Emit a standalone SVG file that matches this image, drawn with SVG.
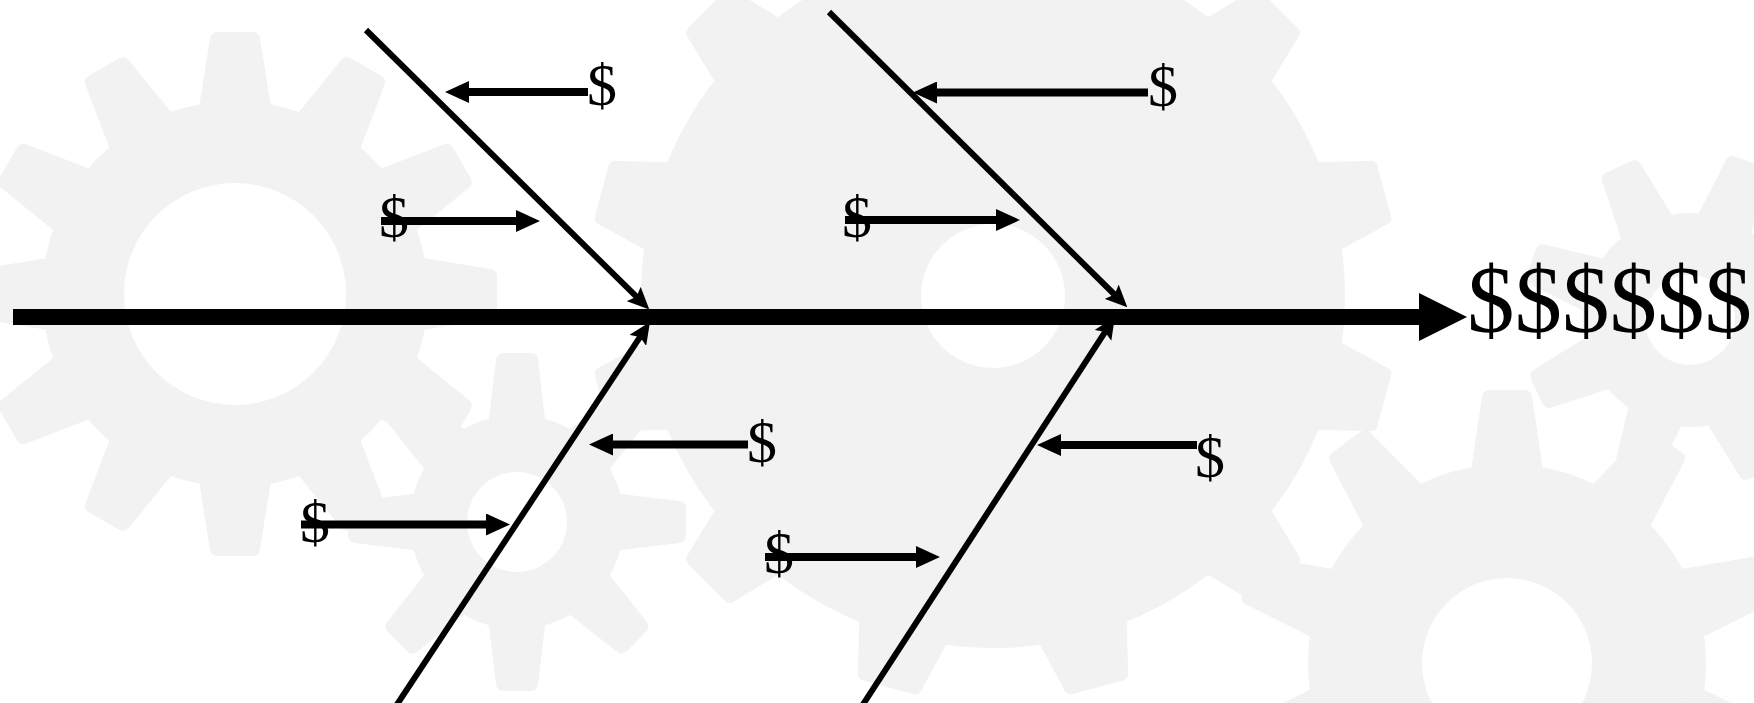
<svg xmlns="http://www.w3.org/2000/svg" xmlns:xlink="http://www.w3.org/1999/xlink" width="1754" height="703" viewBox="0 0 1754 703">
  <style>
    .gear { fill: #f2f2f2; stroke: #f2f2f2; stroke-width: 14; stroke-linejoin: round; }
    .hole { fill: #ffffff; }
    .spine { stroke: #000; stroke-width: 16; fill: none; }
    .bone { stroke: #000; stroke-width: 6; fill: none; marker-end: url(#boneHead); }
    .cause { stroke: #000; stroke-width: 8; fill: none; marker-end: url(#causeHead); }
    .lbl { font-family: "Liberation Serif", "Times New Roman", serif; font-size: 60px; fill: #000; }
    .result { font-family: "Liberation Serif", "Times New Roman", serif; font-size: 95px; fill: #000; }
  </style>
  <defs>
    <marker id="spineHead" markerUnits="userSpaceOnUse" viewBox="0 0 48 48" refX="8" refY="24" markerWidth="48" markerHeight="48" orient="auto">
      <path d="M0,0 L48,24 L0,48 z" fill="#000"/>
    </marker>
    <marker id="boneHead" markerUnits="userSpaceOnUse" viewBox="0 0 22 20" refX="11" refY="10" markerWidth="22" markerHeight="20" orient="auto">
      <path d="M0,0 L22,10 L0,20 L4,10 z" fill="#000"/>
    </marker>
    <marker id="causeHead" markerUnits="userSpaceOnUse" viewBox="0 0 24 22" refX="12" refY="11" markerWidth="24" markerHeight="22" orient="auto">
      <path d="M0,0 L24,11 L0,22 z" fill="#000"/>
    </marker>
    <polygon id="toothA" points="-30,-180 -18,-255 18,-255 30,-180"/>
    <polygon id="toothB" points="-40,-340 -26,-398 26,-398 40,-340"/>
    <polygon id="toothC" points="-30,-185 -18,-266 18,-266 30,-185"/>
    <polygon id="toothS" points="-22,-95 -14,-162 14,-162 22,-95"/>
  </defs>

  <rect width="1754" height="703" fill="#ffffff"/>

  <!-- background gears -->
  <g id="gears">
    <g id="gear-left" class="gear" transform="translate(235,294)">
      <circle r="186"/>
      <use href="#toothA"/><use href="#toothA" transform="rotate(30)"/><use href="#toothA" transform="rotate(60)"/>
      <use href="#toothA" transform="rotate(90)"/><use href="#toothA" transform="rotate(120)"/><use href="#toothA" transform="rotate(150)"/>
      <use href="#toothA" transform="rotate(180)"/><use href="#toothA" transform="rotate(210)"/><use href="#toothA" transform="rotate(240)"/>
      <use href="#toothA" transform="rotate(270)"/><use href="#toothA" transform="rotate(300)"/><use href="#toothA" transform="rotate(330)"/>
    </g>
    <g id="gear-small-left" class="gear" transform="translate(517,522)">
      <circle r="100"/>
      <use href="#toothS"/><use href="#toothS" transform="rotate(45)"/><use href="#toothS" transform="rotate(90)"/>
      <use href="#toothS" transform="rotate(135)"/><use href="#toothS" transform="rotate(180)"/><use href="#toothS" transform="rotate(225)"/>
      <use href="#toothS" transform="rotate(270)"/><use href="#toothS" transform="rotate(315)"/>
    </g>
    <g id="gear-middle" class="gear" transform="translate(993,296)">
      <circle r="345"/>
      <use href="#toothB" transform="rotate(15)"/><use href="#toothB" transform="rotate(45)"/><use href="#toothB" transform="rotate(75)"/>
      <use href="#toothB" transform="rotate(105)"/><use href="#toothB" transform="rotate(135)"/><use href="#toothB" transform="rotate(165)"/>
      <use href="#toothB" transform="rotate(195)"/><use href="#toothB" transform="rotate(225)"/><use href="#toothB" transform="rotate(255)"/>
      <use href="#toothB" transform="rotate(285)"/><use href="#toothB" transform="rotate(315)"/><use href="#toothB" transform="rotate(345)"/>
    </g>
    <g id="gear-small-right" class="gear" transform="translate(1690,320)">
      <circle r="100"/>
      <use href="#toothS" transform="rotate(20)"/><use href="#toothS" transform="rotate(65)"/><use href="#toothS" transform="rotate(110)"/>
      <use href="#toothS" transform="rotate(155)"/><use href="#toothS" transform="rotate(200)"/><use href="#toothS" transform="rotate(245)"/>
      <use href="#toothS" transform="rotate(290)"/><use href="#toothS" transform="rotate(335)"/>
    </g>
    <g id="gear-bottom-right" class="gear" transform="translate(1507,663)">
      <circle r="192"/>
      <use href="#toothC"/><use href="#toothC" transform="rotate(36)"/><use href="#toothC" transform="rotate(72)"/>
      <use href="#toothC" transform="rotate(108)"/><use href="#toothC" transform="rotate(144)"/><use href="#toothC" transform="rotate(216)"/>
      <use href="#toothC" transform="rotate(252)"/><use href="#toothC" transform="rotate(288)"/><use href="#toothC" transform="rotate(324)"/>
    </g>
    <circle class="hole" cx="235" cy="294" r="111"/>
    <circle class="hole" cx="517" cy="522" r="50"/>
    <circle class="hole" cx="993" cy="296" r="72"/>
    <circle class="hole" cx="1690" cy="320" r="45"/>
    <circle class="hole" cx="1507" cy="663" r="85"/>
  </g>

  <!-- spine and bones -->
  <g id="connectors">
    <line class="spine" x1="13" y1="317" x2="1427" y2="317" marker-end="url(#spineHead)"/>
    <line class="bone" x1="366" y1="30" x2="641.5" y2="301.7"/>
    <line class="bone" x1="396" y1="706" x2="643.9" y2="331.2"/>
    <line class="bone" x1="829" y1="12" x2="1119.5" y2="299.5"/>
    <line class="bone" x1="862" y1="706" x2="1108.9" y2="326.2"/>

    <line class="cause" x1="588" y1="92" x2="457" y2="92"/>
    <line class="cause" x1="381" y1="221" x2="528" y2="221"/>
    <line class="cause" x1="301" y1="524.5" x2="498" y2="524.5"/>
    <line class="cause" x1="748" y1="444.5" x2="601" y2="444.5"/>
    <line class="cause" x1="1148" y1="92.5" x2="925" y2="92.5"/>
    <line class="cause" x1="845" y1="220" x2="1008" y2="220"/>
    <line class="cause" x1="1197" y1="445" x2="1049" y2="445"/>
    <line class="cause" x1="765" y1="557" x2="928" y2="557"/>
  </g>

  <!-- labels -->
  <g id="label-ul-1"><text class="lbl" x="587" y="105">$</text></g>
  <g id="label-ul-2"><text class="lbl" x="379" y="237">$</text></g>
  <g id="label-ll-1"><text class="lbl" x="747" y="462">$</text></g>
  <g id="label-ll-2"><text class="lbl" x="300" y="542">$</text></g>
  <g id="label-ur-1"><text class="lbl" x="1148" y="106">$</text></g>
  <g id="label-ur-2"><text class="lbl" x="842" y="237">$</text></g>
  <g id="label-lr-1"><text class="lbl" x="1195" y="477">$</text></g>
  <g id="label-lr-2"><text class="lbl" x="764" y="573">$</text></g>
  <g id="result"><text class="result" x="1467" y="332">$$$$$$</text></g>
</svg>
